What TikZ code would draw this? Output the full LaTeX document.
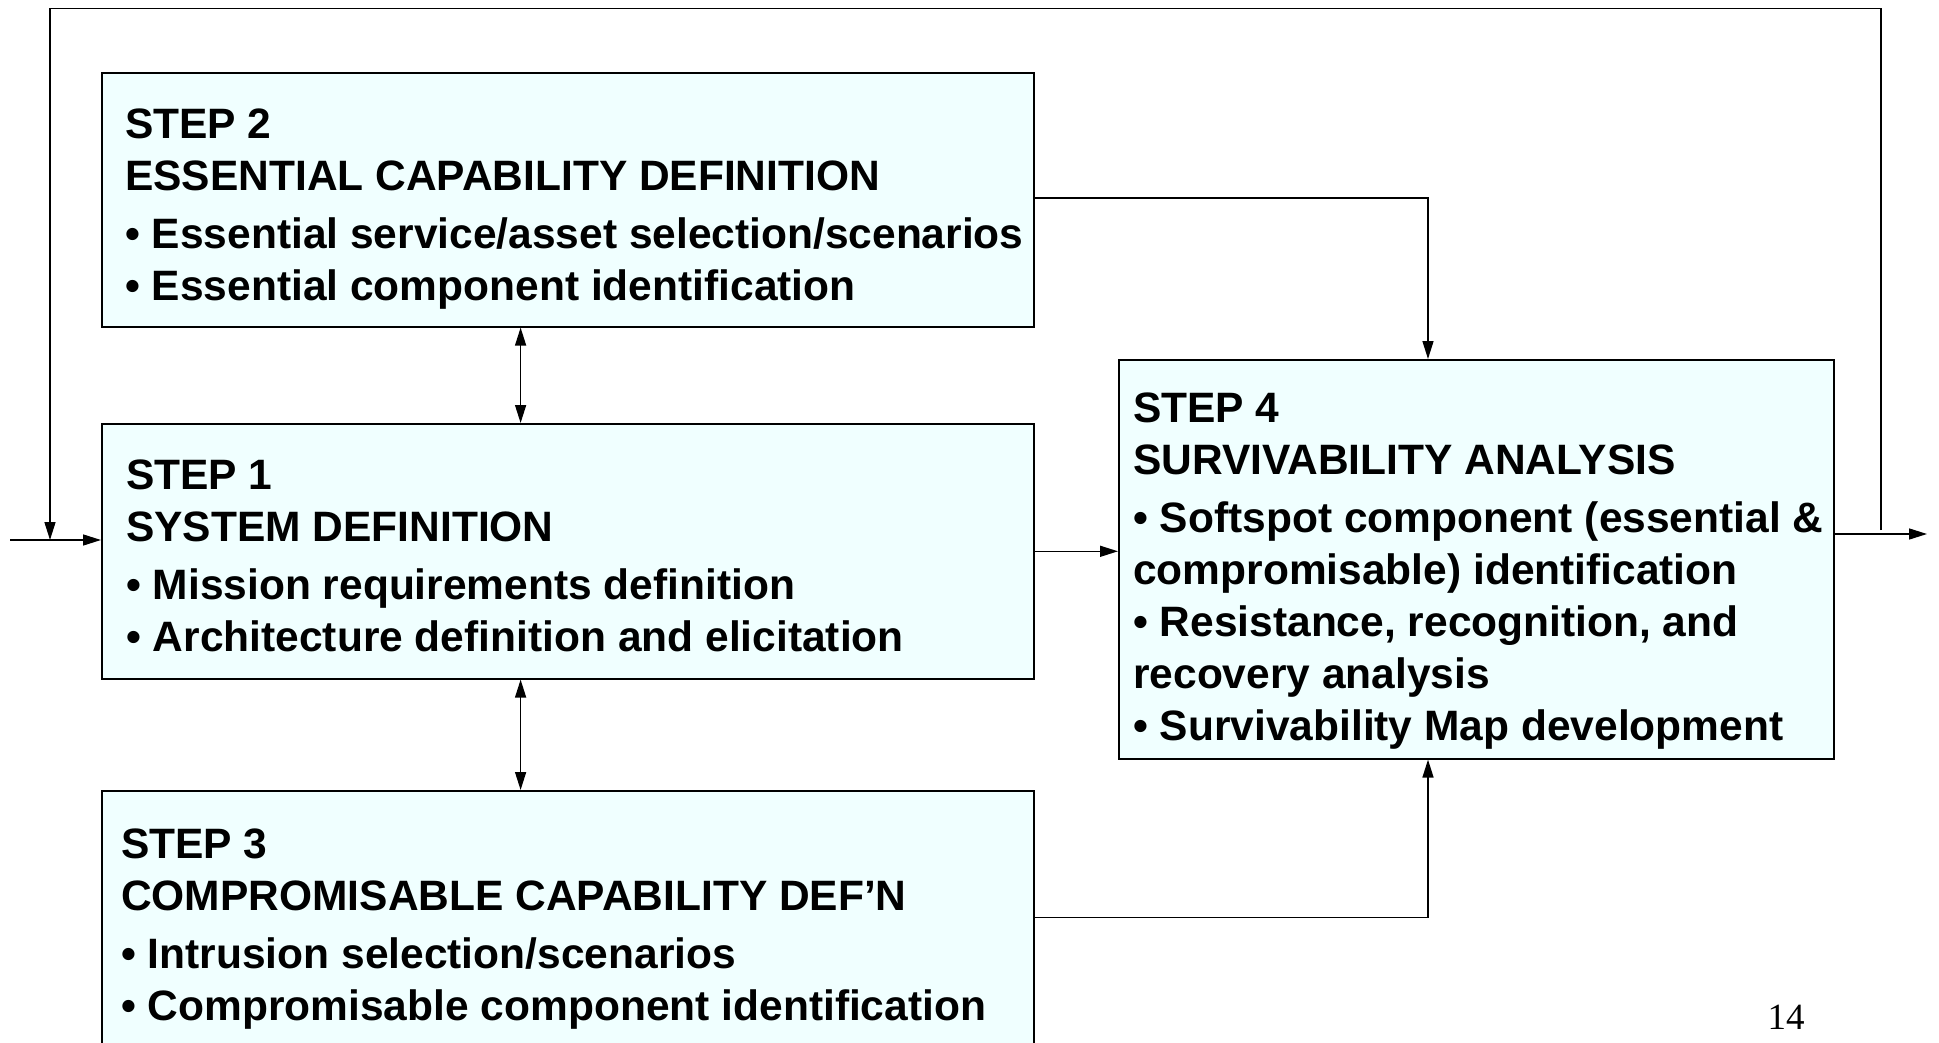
\documentclass[tikz,border=0pt]{standalone}
\usepackage{fontspec}
\setmainfont{Liberation Sans}
\newfontfamily\serifnum{Liberation Serif}
\usetikzlibrary{arrows.meta,calc}
\definecolor{boxfill}{RGB}{240,255,255}
\begin{document}
\begin{tikzpicture}[x=1pt,y=1pt,
  stepbox/.style={draw=black, line width=1.6pt, fill=boxfill, rectangle, inner sep=0pt, anchor=north west},
  steptext/.style={anchor=base west, inner sep=0pt, font=\fontsize{42.5}{52}\selectfont\bfseries},
  conn/.style={line width=1.5pt, -{Triangle[length=18pt,width=11pt]}},
  dconn/.style={line width=1.5pt, {Triangle[length=18pt,width=11pt]}-{Triangle[length=18pt,width=11pt]}},
  plain/.style={line width=1.5pt}]
\clip (0,0) rectangle (1939,-1043);
\fill[white] (0,0) rectangle (1939,-1043);

% boxes
\node[stepbox, minimum width=932pt, minimum height=254pt] (s2) at (101,-72) {};
\node[stepbox, minimum width=932pt, minimum height=255pt] (s1) at (101,-423) {};
\node[stepbox, minimum width=932pt, minimum height=320pt] (s3) at (101,-790) {};
\node[stepbox, minimum width=715pt, minimum height=399pt] (s4) at (1118,-359) {};

% texts
\node[steptext] (t2) at (125,-138.5) {\vtop{\hbox{STEP 2}\hbox{ESSENTIAL CAPABILITY DEFINITION}\vskip6pt
  \hbox{• Essential service/asset selection/scenarios}\hbox{• Essential component identification}}};
\node[steptext] (t1) at (126,-489.7) {\vtop{\hbox{STEP 1}\hbox{SYSTEM DEFINITION}\vskip6pt
  \hbox{• Mission requirements definition}\hbox{• Architecture definition and elicitation}}};
\node[steptext] (t3) at (121,-858.2) {\vtop{\hbox{STEP 3}\hbox{COMPROMISABLE CAPABILITY DEF’N}\vskip6pt
  \hbox{• Intrusion selection/scenarios}\hbox{• Compromisable component identification}}};
\node[steptext] (t4) at (1133,-422.9) {\vtop{\hbox{STEP 4}\hbox{SURVIVABILITY ANALYSIS}\vskip6pt
  \hbox{• Softspot component (essential \&}\hbox{compromisable) identification}
  \hbox{• Resistance, recognition, and}\hbox{recovery analysis}
  \hbox{• Survivability Map development}}};

% page number
\node[font=\serifnum\fontsize{37}{37}\selectfont, anchor=base, inner sep=0pt] (pg) at (1786,-1029) {14};

% helper coordinates
\coordinate (c24) at (1428,-198);
\coordinate (c34) at (1428,-917.6);
\coordinate (vx) at (520.6,0);
\coordinate (in) at (10,-540);
\coordinate (out) at (1927,-534);
\coordinate (loopR) at (1881,-530);
\coordinate (loopTL) at (50,-8.7);

% connectors
\draw[conn] (s2.east |- c24) -| (s4.north -| c24);
\draw[conn] (s1.east) -- (s4.west |- s1.east);
\draw[conn] (s3.east |- c34) -| (s4.south -| c34);
\draw[dconn] (s2.south -| vx) -- (s1.north -| vx);
\draw[dconn] (s1.south -| vx) -- (s3.north -| vx);
\draw[conn] (in) -- (s1.west |- in);
\draw[conn] (s4.east |- out) -- (out);
\draw[conn] (loopR) |- (loopTL) -- (loopTL |- in);
\end{tikzpicture}
\end{document}
